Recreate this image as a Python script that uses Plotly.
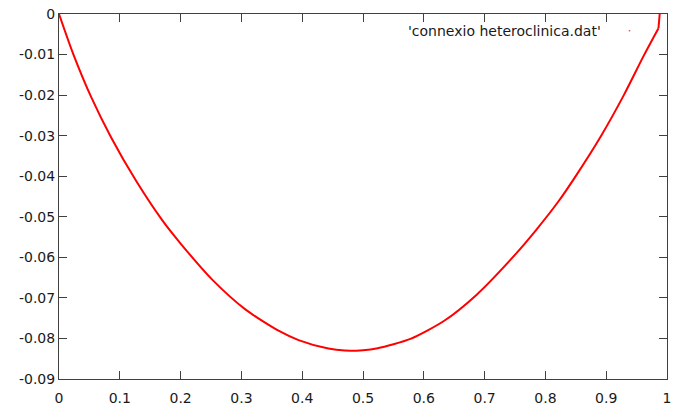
import plotly.graph_objects as go

# Heteroclinic connection trajectory from 'connexio heteroclinica.dat'
x_vals = [0.0, 0.023, 0.053, 0.086, 0.127, 0.170, 0.200, 0.252, 0.307, 0.361,
          0.394, 0.443, 0.470, 0.500, 0.524, 0.578, 0.633, 0.687, 0.742,
          0.785, 0.821, 0.848, 0.891, 0.929, 0.962, 0.986]
y_vals = [0.0, -0.0097, -0.0205, -0.0305, -0.0412, -0.0509, -0.0566, -0.0655, -0.0729, -0.0781,
          -0.0804, -0.0825, -0.0830, -0.0829, -0.0824, -0.0801, -0.0757, -0.0692, -0.0607,
          -0.0532, -0.0463, -0.0404, -0.0302, -0.0200, -0.0102, -0.0035]
# closing stretch where the trajectory turns and reaches the axis
x_end = [0.986, 0.988, 0.988]
y_end = [-0.0035, -0.0010, 0.0]

x_ticks = [0, 0.1, 0.2, 0.3, 0.4, 0.5, 0.6, 0.7, 0.8, 0.9, 1]
x_tick_labels = ["0", "0.1", "0.2", "0.3", "0.4", "0.5", "0.6", "0.7", "0.8", "0.9", "1"]
y_ticks = [0, -0.01, -0.02, -0.03, -0.04, -0.05, -0.06, -0.07, -0.08, -0.09]
y_tick_labels = ["0", "-0.01", "-0.02", "-0.03", "-0.04", "-0.05", "-0.06", "-0.07", "-0.08", "-0.09"]

series_name = "'connexio heteroclinica.dat'"
red = "#ff0000"

fig = go.Figure()
fig.add_trace(go.Scatter(
    x=x_vals, y=y_vals, mode="lines",
    line=dict(color=red, width=2, shape="spline", smoothing=0.7),
    name=series_name, showlegend=False,
))
fig.add_trace(go.Scatter(
    x=x_end, y=y_end, mode="lines",
    line=dict(color=red, width=2),
    showlegend=False,
))

font = dict(family="DejaVu Sans", size=14, color="#1a1a1a")
axis_common = dict(
    showgrid=False, zeroline=False,
    showline=True, linecolor="#404040", linewidth=1,
    mirror="ticks", ticks="inside", ticklen=8, tickwidth=1, tickcolor="#404040",
    tickfont=font,
)

W, H = 677, 414
L, R, T, B = 59, 6, 10, 35
pw, ph = W - L - R, H - T - B

fig.update_layout(
    width=W, height=H,
    margin=dict(l=L, r=R, t=T, b=B),
    paper_bgcolor="white", plot_bgcolor="white",
    xaxis=dict(range=[0, 1], tickvals=x_ticks, ticktext=x_tick_labels,
               ticklabelstandoff=6, **axis_common),
    yaxis=dict(range=[-0.09, 0], tickvals=y_ticks, ticktext=y_tick_labels, **axis_common),
    showlegend=False,
)

# key entry: title text with its short sample mark
key_y = (H - B - 27) / ph
fig.add_annotation(
    x=(607 - L) / pw, y=key_y, xref="paper", yref="paper",
    text=series_name, showarrow=False, font=font,
    xanchor="right", yanchor="middle",
)
fig.add_shape(
    type="line", xref="paper", yref="paper",
    x0=(632.5 - L) / pw, x1=(634 - L) / pw,
    y0=key_y, y1=key_y,
    line=dict(color=red, width=1),
)

fig.write_html("out.html")
